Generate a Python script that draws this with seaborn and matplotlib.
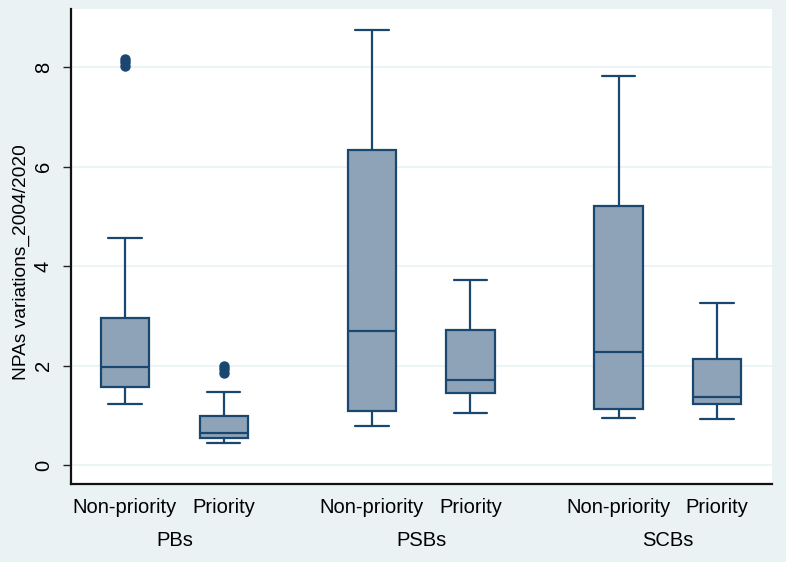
import matplotlib
matplotlib.use("Agg")
import matplotlib.pyplot as plt
import seaborn as sns

# Five-number summaries
groups = ["PBs", "PSBs", "SCBs"]
subgroups = ["Non-priority", "Priority"]
whis_low = [1.23, 0.44, 0.78, 1.05, 0.94, 0.92]
q1 = [1.57, 0.54, 1.09, 1.45, 1.13, 1.23]
median = [1.97, 0.64, 2.69, 1.71, 2.27, 1.37]
q3 = [2.95, 0.98, 6.33, 2.71, 5.20, 2.13]
whis_high = [4.57, 1.47, 8.75, 3.72, 7.83, 3.26]
outliers = [[8.02, 8.10, 8.17], [1.85, 1.93, 2.00], [], [], [], []]

navy = "#1A476F"
fill = "#8FA3B8"
bg = "#EAF2F3"

sns.set_style("white")
plt.rcParams["font.family"] = ["Liberation Sans", "DejaVu Sans"]
plt.rcParams["text.color"] = "black"
plt.rcParams["xtick.color"] = "black"
plt.rcParams["ytick.color"] = "black"
plt.rcParams["axes.labelcolor"] = "black"

fig = plt.figure(figsize=(7.86, 5.62), dpi=100)
fig.patch.set_facecolor(bg)
ax = fig.add_axes([71 / 786, 1 - 484 / 562, (772 - 71) / 786, (484 - 9) / 562])

positions = []
for g in range(len(groups)):
    for s in range(len(subgroups)):
        positions.append(g * 2.5 + s)

stats = []
for i in range(len(positions)):
    stats.append({
        "whislo": whis_low[i], "q1": q1[i], "med": median[i],
        "q3": q3[i], "whishi": whis_high[i], "fliers": outliers[i],
    })

ax.bxp(stats, positions=positions, widths=0.49, capwidths=0.34,
       patch_artist=True, showfliers=True,
       boxprops=dict(facecolor=fill, edgecolor=navy, linewidth=1.6),
       medianprops=dict(color=navy, linewidth=1.6),
       whiskerprops=dict(color=navy, linewidth=1.6),
       capprops=dict(color=navy, linewidth=1.6),
       flierprops=dict(marker="o", markerfacecolor=navy, markeredgecolor=navy,
                       markersize=6.5))

ax.set_xlim(-0.547, 6.555)
ax.set_ylim(-0.38, 9.17)
ax.set_yticks([0, 2, 4, 6, 8])
ax.yaxis.grid(True, color=bg, linewidth=1.2)
ax.set_axisbelow(True)

ax.set_xticks(positions)
ax.set_xticklabels(subgroups * len(groups), fontsize=14.5)
ax.tick_params(axis="x", length=0, pad=10)
ax.tick_params(axis="y", length=6, width=1, color="#222222", pad=7,
               labelsize=14.5, labelrotation=90, left=True)
for lbl in ax.get_yticklabels():
    lbl.set_va("center")

for g, name in enumerate(groups):
    ax.text(g * 2.5 + 0.5, -0.118, name, transform=ax.get_xaxis_transform(),
            ha="center", va="center", fontsize=14.5)

ax.set_ylabel("NPAs variations_2004/2020", fontsize=13.8)
ax.yaxis.set_label_coords(-0.058, 0.467)

for side in ["top", "right"]:
    ax.spines[side].set_visible(False)
ax.spines["left"].set_color("#111111")
ax.spines["bottom"].set_color("#111111")
ax.spines["left"].set_linewidth(1.6)
ax.spines["bottom"].set_linewidth(1.6)

fig.savefig("out.png", dpi=100, facecolor=bg)
